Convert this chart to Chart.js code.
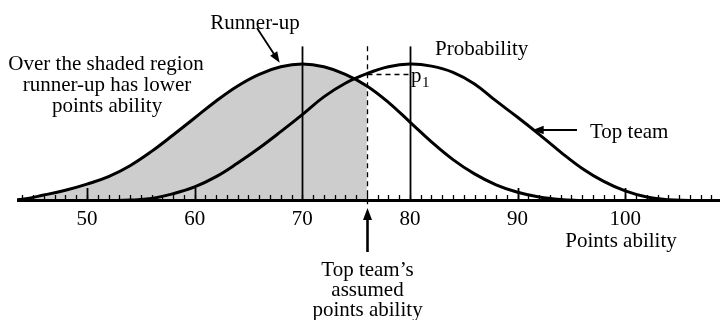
<!DOCTYPE html>
<html>
<head>
<meta charset="utf-8">
<script src="https://cdn.jsdelivr.net/npm/chart.js@4/dist/chart.umd.min.js"></script>
<style>
  html, body { margin: 0; padding: 0; background: #ffffff; }
  #wrap { width: 720px; height: 320px; }
</style>
</head>
<body>
<div id="wrap"><canvas id="chart" width="720" height="320"></canvas></div>
<script>
// Relative probability of each team's points ability
const runnerUpX = [42, 44, 46, 48, 50, 52, 54, 56, 58, 60, 62, 64, 66, 68, 70, 72, 74, 76, 78, 80, 82, 84, 86, 88, 90, 92, 94, 96];
const runnerUpY = [0, 0.01, 0.04, 0.075, 0.12, 0.175, 0.255, 0.36, 0.48, 0.605, 0.73, 0.84, 0.925, 0.98, 1.0, 0.98, 0.925, 0.84, 0.72, 0.575, 0.43, 0.30, 0.195, 0.115, 0.06, 0.025, 0.007, 0];

const topTeamX = [52, 54, 56, 58, 60, 62, 64, 66, 68, 70, 72, 74, 76, 78, 80, 82, 84, 86, 88, 90, 92, 94, 96, 98, 100, 102, 104, 106];
const topTeamY = [0, 0.003, 0.015, 0.05, 0.1, 0.175, 0.275, 0.385, 0.505, 0.63, 0.76, 0.86, 0.93, 0.98, 1.0, 0.985, 0.94, 0.855, 0.73, 0.61, 0.485, 0.355, 0.235, 0.14, 0.07, 0.025, 0.005, 0];

// Axis ticks
const tickLabels = [50, 60, 70, 80, 90, 100];
const majorTicks = [50, 60, 90, 100];
const minorTicks = [44, 45, 46, 47, 48, 49, 50, 51, 52, 53, 54, 55, 56, 57, 58, 59, 60, 61, 62, 63, 64, 65, 66, 67, 68, 69, 70,
  71, 72, 73, 74, 75, 76, 77, 78, 79, 80, 81, 82, 83, 84, 85, 86, 87, 88, 89, 90, 91, 92, 93, 94, 95, 96, 97, 98, 99, 100,
  101, 102, 103, 104, 105, 106, 107, 108];

// Key values
const runnerUpMean = 70;
const topTeamMean = 80;
const assumedAbility = 76;
const pOne = 0.93;          // top team's probability at the assumed ability
const markerTop = 1.13;     // height reached by the vertical marker lines

const toPoints = (xs, ys) => xs.map((x, i) => ({ x: x, y: ys[i] }));
const shadedPoints = toPoints(runnerUpX, runnerUpY).filter(p => p.x <= assumedAbility);

const SERIF = '"Liberation Serif", "Times New Roman", serif';

function arrowHead(ctx, x1, y1, x2, y2, len, half) {
  const a = Math.atan2(y2 - y1, x2 - x1);
  ctx.beginPath();
  ctx.moveTo(x2, y2);
  ctx.lineTo(x2 - len * Math.cos(a) + half * Math.sin(a), y2 - len * Math.sin(a) - half * Math.cos(a));
  ctx.lineTo(x2 - len * Math.cos(a) - half * Math.sin(a), y2 - len * Math.sin(a) + half * Math.cos(a));
  ctx.closePath();
  ctx.fill();
}

function arrow(ctx, x1, y1, x2, y2, width, len, half) {
  const a = Math.atan2(y2 - y1, x2 - x1);
  ctx.lineWidth = width;
  ctx.beginPath();
  ctx.moveTo(x1, y1);
  ctx.lineTo(x2 - (len - 2) * Math.cos(a), y2 - (len - 2) * Math.sin(a));
  ctx.stroke();
  arrowHead(ctx, x1, y1, x2, y2, len, half);
}

const decorations = {
  id: 'decorations',
  afterDatasetsDraw(chart) {
    const ctx = chart.ctx;
    const xs = chart.scales.x, ys = chart.scales.y;
    const area = chart.chartArea;
    const y0 = ys.getPixelForValue(0);
    ctx.save();
    ctx.strokeStyle = '#000';
    ctx.fillStyle = '#000';
    ctx.lineCap = 'butt';

    // vertical markers at the two means
    ctx.lineWidth = 1.8;
    [runnerUpMean, topTeamMean].forEach(v => {
      const px = Math.round(xs.getPixelForValue(v)) + 0.5;
      ctx.beginPath();
      ctx.moveTo(px, ys.getPixelForValue(markerTop));
      ctx.lineTo(px, y0);
      ctx.stroke();
    });

    // dashed marker at the assumed ability and the p1 level
    ctx.lineWidth = 1.3;
    ctx.setLineDash([5, 4]);
    const ax = Math.round(xs.getPixelForValue(assumedAbility)) + 0.5;
    ctx.beginPath();
    ctx.moveTo(ax, ys.getPixelForValue(markerTop));
    ctx.lineTo(ax, y0 + 4);
    ctx.stroke();
    const py = Math.round(ys.getPixelForValue(pOne)) + 0.5;
    ctx.beginPath();
    ctx.moveTo(ax, py);
    ctx.lineTo(xs.getPixelForValue(topTeamMean), py);
    ctx.stroke();
    ctx.setLineDash([]);

    // axis line
    ctx.lineWidth = 3;
    ctx.beginPath();
    ctx.moveTo(area.left, y0);
    ctx.lineTo(area.right, y0);
    ctx.stroke();

    // minor and major ticks
    ctx.lineWidth = 1.3;
    minorTicks.forEach(v => {
      const px = Math.round(xs.getPixelForValue(v)) + 0.5;
      ctx.beginPath();
      ctx.moveTo(px, y0);
      ctx.lineTo(px, y0 - 5.5);
      ctx.stroke();
    });
    ctx.lineWidth = 1.8;
    majorTicks.forEach(v => {
      const px = Math.round(xs.getPixelForValue(v)) + 0.5;
      ctx.beginPath();
      ctx.moveTo(px, y0);
      ctx.lineTo(px, y0 - 12.5);
      ctx.stroke();
    });

    // tick labels
    ctx.font = '21px ' + SERIF;
    ctx.textAlign = 'center';
    ctx.textBaseline = 'alphabetic';
    tickLabels.forEach(v => {
      ctx.fillText(String(v), xs.getPixelForValue(v), 225);
    });

    // text annotations
    ctx.fillText('Runner-up', 255, 29);
    ctx.fillText('Over the shaded region', 106, 70);
    ctx.fillText('runner-up has lower', 107, 91);
    ctx.fillText('points ability', 107, 112);
    ctx.fillText('Top team\u2019s', ax, 276);
    ctx.fillText('assumed', ax, 296);
    ctx.fillText('points ability', ax, 316);
    ctx.fillText('Points ability', 621, 247);
    ctx.textAlign = 'left';
    ctx.fillText('Probability', 435, 55);
    ctx.fillText('Top team', 590, 138);
    ctx.fillText('p', 411, 82);
    ctx.font = '15px ' + SERIF;
    ctx.fillText('1', 422, 87);

    // arrows
    arrow(ctx, 257, 28, xs.getPixelForValue(67.9), ys.getPixelForValue(1.01), 1.8, 11, 4.2);
    arrow(ctx, 577, 130, xs.getPixelForValue(91.4), 130, 1.8, 11, 4.2);
    arrow(ctx, ax, 252, ax, 208, 2.6, 12, 4.5);

    ctx.restore();
  }
};

new Chart(document.getElementById('chart'), {
  type: 'line',
  data: {
    datasets: [
      {
        label: 'Top team',
        data: toPoints(topTeamX, topTeamY),
        borderColor: '#000',
        borderWidth: 3,
        fill: false,
        order: 1
      },
      {
        label: 'Runner-up',
        data: toPoints(runnerUpX, runnerUpY),
        borderColor: '#000',
        borderWidth: 3,
        fill: false,
        order: 2
      },
      {
        label: 'Shaded region',
        data: shadedPoints,
        borderWidth: 0,
        borderColor: 'rgba(0,0,0,0)',
        backgroundColor: '#cdcdcd',
        fill: 'origin',
        order: 3
      }
    ]
  },
  options: {
    responsive: false,
    animation: false,
    layout: { padding: { left: 17, right: 0, top: 0, bottom: 119.5 } },
    elements: {
      point: { radius: 0, hoverRadius: 0 },
      line: { tension: 0.4, borderJoinStyle: 'round' }
    },
    scales: {
      x: { type: 'linear', min: 43.5, max: 108.8, display: false },
      y: { min: 0, max: 1.47, display: false }
    },
    plugins: {
      legend: { display: false },
      tooltip: { enabled: false }
    }
  },
  plugins: [decorations]
});
</script>
</body>
</html>
